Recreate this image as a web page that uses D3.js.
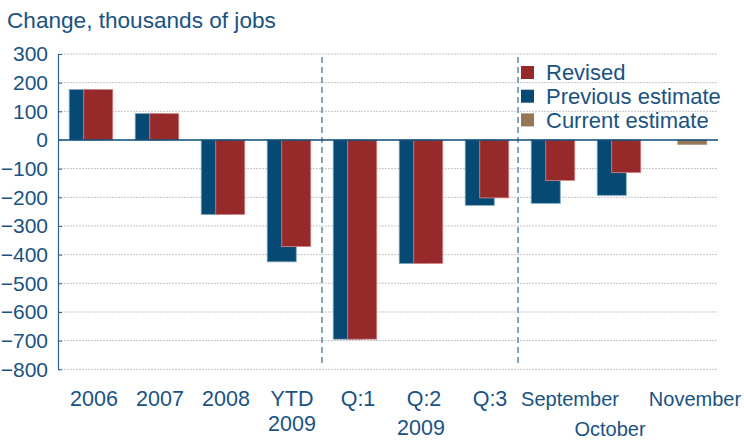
<!DOCTYPE html>
<html>
<head>
<meta charset="utf-8">
<script src="https://cdn.jsdelivr.net/npm/d3@7"></script>
<style>
    body { margin: 0; background: #fff; }
    svg { display: block; font-family: "Liberation Sans", Arial, sans-serif; }
</style>
</head>
<body>
<script>
// categories along the x axis (second line of a label after "\n")
const categories = ["2006", "2007", "2008", "YTD\n2009", "Q:1", "Q:2", "Q:3", "September", "October", "November"];
// thousands of jobs
const previous = [176, 92, -260, -425, -695, -431, -228, -221, -193, null];
const revised = [176, 92, -260, -372, -695, -431, -202, -141, -114, null];
const current = [null, null, null, null, null, null, null, null, null, -16];
const yTicks = [300, 200, 100, 0, -100, -200, -300, -400, -500, -600, -700, -800];
const legendItems = ["Revised", "Previous estimate", "Current estimate"];
const groupLabel = "2009";

const colors = { prev: "#064a74", rev: "#962a2b", cur: "#957757", text: "#1a5282" };

const width = 744, height = 440;
const plotLeft = 58, plotRight = 718, plotTop = 54, plotBottom = 369.3;

const svg = d3.select("body").append("svg")
    .attr("width", width)
    .attr("height", height);

let x = d3.scaleBand()
    .domain(categories)
    .range([plotLeft, plotRight])
    .padding(0);

let y = d3.scaleLinear()
    .domain([-800, 300])
    .range([plotBottom, plotTop]);

// gridlines (dotted, not at zero)
svg.append("g")
    .selectAll("line")
    .data(yTicks.filter(d => d !== 0))
    .join("line")
    .attr("x1", plotLeft).attr("x2", plotRight)
    .attr("y1", d => y(d)).attr("y2", d => y(d))
    .attr("stroke", "#c4c4c4")
    .attr("stroke-dasharray", "2,1")
    .attr("stroke-width", 1);

// dashed separators between the groups
svg.append("g")
    .selectAll("line")
    .data(["Q:1", "September"])
    .join("line")
    .attr("x1", d => x(d) - (d === "September" ? 2 : 0))
    .attr("x2", d => x(d) - (d === "September" ? 2 : 0))
    .attr("y1", 57).attr("y2", 367)
    .attr("stroke", "#6a8fab")
    .attr("stroke-width", 1.6)
    .attr("stroke-dasharray", "6,4");

const bw = x.bandwidth();
const barW = bw * 0.44;

function drawBars(values, cls, fill, edge, offset) {
    svg.append("g")
        .attr("class", cls)
        .selectAll("rect")
        .data(values.map((v, i) => ({ c: categories[i], v: v })).filter(d => d.v !== null))
        .join("rect")
        .attr("x", d => x(d.c) + bw / 2 + offset * barW)
        .attr("width", barW)
        .attr("y", d => Math.min(y(d.v), y(0)))
        .attr("height", d => Math.abs(y(d.v) - y(0)))
        .attr("fill", fill)
        .attr("stroke", edge)
        .attr("stroke-width", 0.8);
}
drawBars(previous, "prev", colors.prev, "#7fa3bf", -0.75);
drawBars(revised, "rev", colors.rev, "#d58a8b", -0.25);
drawBars(current, "cur", colors.cur, "#b39a80", -0.25);

// zero line
svg.append("line")
    .attr("x1", plotLeft).attr("x2", plotRight)
    .attr("y1", y(0)).attr("y2", y(0))
    .attr("stroke", "#0b4a75")
    .attr("stroke-width", 1.6);

// y axis
let yAxis = svg.append("g")
    .attr("transform", "translate(" + plotLeft + ",0)")
    .call(d3.axisLeft(y).tickValues(yTicks).tickSizeInner(-4).tickSizeOuter(0).tickPadding(10));
yAxis.select(".domain").attr("stroke", "#2a6090").attr("stroke-width", 1.2);
yAxis.selectAll(".tick line").attr("stroke", "#2a6090");
yAxis.selectAll(".tick text")
    .attr("fill", colors.text)
    .attr("font-size", 21)
    .attr("font-family", "Liberation Sans, Arial, sans-serif");

// x labels
const monthNudge = { "September": 17, "October": -9, "November": 10 };

svg.append("g")
    .selectAll("text")
    .data(categories)
    .join("text")
    .attr("x", d => x(d) + bw / 2 + (monthNudge[d] !== undefined ? monthNudge[d] : 3))
    .attr("y", d => d === "October" ? 436 : 406)
    .attr("text-anchor", "middle")
    .attr("fill", colors.text)
    .attr("font-size", d => monthNudge[d] !== undefined ? 20 : 21.5)
    .each(function (d) {
        const parts = d.split("\n");
        const t = d3.select(this);
        parts.forEach((p, i) => {
            t.append("tspan")
                .attr("x", t.attr("x"))
                .attr("dy", i === 0 ? 0 : 25)
                .text(p);
        });
    });

// group label under the quarters
svg.append("text")
    .attr("x", x("Q:2") + bw / 2)
    .attr("y", 435)
    .attr("text-anchor", "middle")
    .attr("fill", colors.text)
    .attr("font-size", 21.5)
    .text(groupLabel);

// title
svg.append("text")
    .attr("x", 7)
    .attr("y", 28)
    .attr("fill", colors.text)
    .attr("font-size", 22.6)
    .text("Change, thousands of jobs");

// legend
const legendColors = [colors.rev, colors.prev, colors.cur];
let legend = svg.append("g")
    .selectAll("g")
    .data(legendItems)
    .join("g")
    .attr("transform", (d, i) => "translate(521," + (72.5 + i * 23.7) + ")");
legend.append("rect")
    .attr("x", 0).attr("y", -6.5)
    .attr("width", 13).attr("height", 13)
    .attr("fill", (d, i) => legendColors[i]);
legend.append("text")
    .attr("x", 25)
    .attr("dy", "0.35em")
    .attr("fill", colors.text)
    .attr("font-size", 22)
    .text(d => d);
</script>
</body>
</html>
